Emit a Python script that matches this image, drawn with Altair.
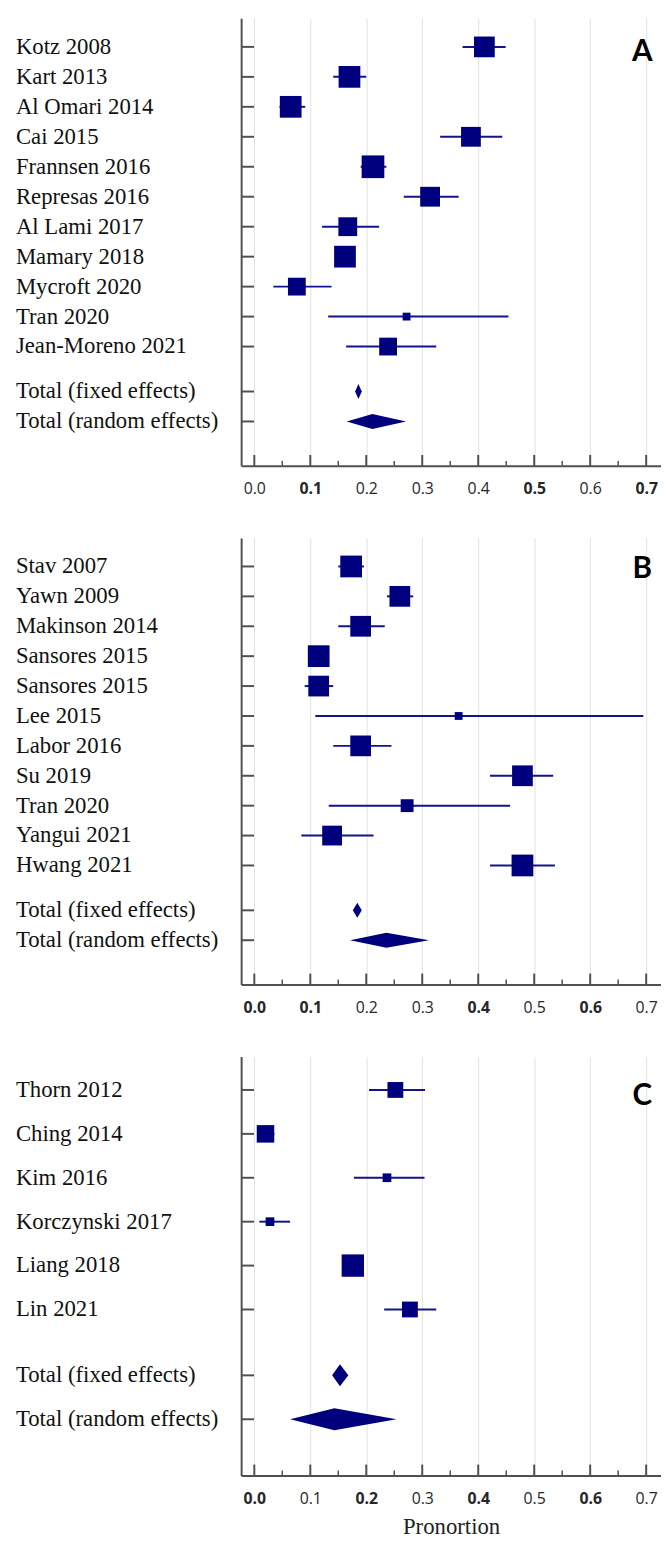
import altair as alt
import pandas as pd

# ---------------- data ----------------
# Panel A
a_studies = ["Kotz 2008", "Kart 2013", "Al Omari 2014", "Cai 2015", "Frannsen 2016",
             "Represas 2016", "Al Lami 2017", "Mamary 2018", "Mycroft 2020", "Tran 2020",
             "Jean-Moreno 2021"]
a_prop = [0.411, 0.170, 0.065, 0.387, 0.212, 0.314, 0.167, 0.162, 0.076, 0.272, 0.239]
a_lo = [0.372, 0.141, 0.045, 0.332, 0.190, 0.267, 0.121, 0.145, 0.034, 0.132, 0.164]
a_hi = [0.449, 0.200, 0.091, 0.443, 0.236, 0.365, 0.223, 0.180, 0.138, 0.454, 0.325]
a_weight = [9.1, 10.0, 10.0, 8.3, 10.9, 8.3, 7.5, 10.0, 6.7, 1.3, 6.7]
a_total_est = [0.186, 0.211]
a_total_lo = [0.180, 0.165]
a_total_hi = [0.192, 0.271]

# Panel B
b_studies = ["Stav 2007", "Yawn 2009", "Makinson 2014", "Sansores 2015", "Sansores 2015",
             "Lee 2015", "Labor 2016", "Su 2019", "Tran 2020", "Yangui 2021", "Hwang 2021"]
b_prop = [0.173, 0.260, 0.190, 0.115, 0.115, 0.365, 0.190, 0.479, 0.273, 0.139, 0.479]
b_lo = [0.150, 0.237, 0.150, 0.100, 0.090, 0.109, 0.141, 0.421, 0.133, 0.084, 0.421]
b_hi = [0.196, 0.284, 0.233, 0.130, 0.141, 0.695, 0.245, 0.534, 0.457, 0.213, 0.537]
b_weight = [10.0, 9.1, 9.1, 10.0, 9.1, 1.3, 9.1, 9.1, 3.5, 8.3, 10.0]
b_total_est = [0.184, 0.236]
b_total_lo = [0.176, 0.171]
b_total_hi = [0.192, 0.312]

# Panel C
c_studies = ["Thorn 2012", "Ching 2014", "Kim 2016", "Korczynski 2017", "Liang 2018", "Lin 2021"]
c_prop = [0.252, 0.020, 0.237, 0.028, 0.176, 0.278]
c_lo = [0.205, 0.006, 0.178, 0.009, 0.162, 0.232]
c_hi = [0.305, 0.036, 0.304, 0.064, 0.190, 0.325]
c_weight = [5.3, 6.5, 1.6, 1.6, 10.6, 5.3]
c_total_est = [0.153, 0.143]
c_total_lo = [0.139, 0.064]
c_total_hi = [0.168, 0.254]

total_names = ["Total (fixed effects)", "Total (random effects)"]
major_ticks = [0.0, 0.1, 0.2, 0.3, 0.4, 0.5, 0.6, 0.7]
minor_ticks = [0.05, 0.15, 0.25, 0.35, 0.45, 0.55, 0.65]
# tick labels that appear heavier in each panel of the source image
a_bold_labels = ["0.1", "0.5", "0.7"]
b_bold_labels = ["0.0", "0.1", "0.4", "0.6"]
c_bold_labels = ["0.0", "0.2", "0.4", "0.6"]

# ---------------- style ----------------
NAVY = "#00007f"
AXIS_GRAY = "#505050"
XMIN, XMAX = -0.0235, 0.7265
W = 425


def panel(studies, prop, lo, hi, weight, t_est, t_lo, t_hi, letter, ydom, H, title,
          bold_labels, letter_y):
    n = len(studies)
    rows = list(range(1, n + 1))
    trows = [n + 1.5, n + 2.5]

    xs = alt.Scale(domain=[XMIN, XMAX], nice=False, zero=False)
    ys = alt.Scale(domain=ydom, reverse=True, nice=False, zero=False)
    bold_test = "indexof([" + ",".join("'" + b + "'" for b in bold_labels) + "], datum.label) >= 0"
    axis_kw = dict(values=major_ticks, format=".1f", grid=True, gridColor="#e2e2e2",
                   gridWidth=1, ticks=False, tickSize=0, domainColor=AXIS_GRAY,
                   domainWidth=2, labelFont="Open Sans", labelFontSize=16,
                   labelFontWeight={"condition": {"test": bold_test, "value": "bold"},
                                    "value": "normal"},
                   labelColor="#262626", labelPadding=23, labelBaseline="middle",
                   labelFlush=False)
    if title:
        xaxis = alt.Axis(title=title, titleFont="Liberation Serif", titleFontSize=23,
                         titleFontWeight="normal", titleColor="#222222", titlePadding=10,
                         **axis_kw)
    else:
        xaxis = alt.Axis(title=None, **axis_kw)
    yaxis = alt.Axis(title=None, domain=True, domainColor=AXIS_GRAY, domainWidth=2,
                     ticks=False, labels=False, grid=False)

    st = pd.DataFrame(dict(name=studies, row=rows, p=prop, lo=lo, hi=hi, w=weight))
    lab = pd.DataFrame(dict(name=studies + total_names, row=rows + trows))
    dia_rows = []
    for g, (r, e, l, h) in enumerate(zip(trows, t_est, t_lo, t_hi)):
        dia_rows.append(dict(g=g, x=l, y1=r, y2=r))
        dia_rows.append(dict(g=g, x=e, y1=r - 0.25, y2=r + 0.25))
        dia_rows.append(dict(g=g, x=h, y1=r, y2=r))
    dia = pd.DataFrame(dia_rows)
    maj = pd.DataFrame(dict(t=major_ticks))
    mnr = pd.DataFrame(dict(t=minor_ticks))

    xt_major = alt.Chart(maj).mark_rule(color=AXIS_GRAY, strokeWidth=2).encode(
        x=alt.X("t:Q", scale=xs, axis=xaxis),
        y=alt.value(H), y2=alt.value(H - 11))
    xt_minor = alt.Chart(mnr).mark_rule(color=AXIS_GRAY, strokeWidth=1.5).encode(
        x=alt.X("t:Q", scale=xs, axis=xaxis),
        y=alt.value(H), y2=alt.value(H - 5))
    yt = alt.Chart(lab).mark_rule(color=AXIS_GRAY, strokeWidth=2).encode(
        y=alt.Y("row:Q", scale=ys, axis=yaxis),
        x=alt.value(0), x2=alt.value(13))
    ci = alt.Chart(st).mark_rule(color="#14148a", strokeWidth=2).encode(
        x=alt.X("lo:Q", scale=xs, axis=xaxis), x2="hi:Q",
        y=alt.Y("row:Q", scale=ys, axis=yaxis))
    sq = alt.Chart(st).mark_square(filled=True, color=NAVY, opacity=1).encode(
        x=alt.X("p:Q", scale=xs, axis=xaxis),
        y=alt.Y("row:Q", scale=ys, axis=yaxis),
        size=alt.Size("w:Q", scale=alt.Scale(domain=[0, 10], range=[0, 484]), legend=None))
    dm = alt.Chart(dia).mark_area(color=NAVY, opacity=1, orient="vertical").encode(
        x=alt.X("x:Q", scale=xs, axis=xaxis),
        y=alt.Y("y1:Q", scale=ys, axis=yaxis), y2="y2:Q",
        detail="g:N")
    labels = alt.Chart(lab).mark_text(align="left", baseline="middle",
                                      font="Liberation Serif", fontSize=23,
                                      color="#111111").encode(
        y=alt.Y("row:Q", scale=ys, axis=yaxis),
        x=alt.value(-228), text="name:N")
    let = alt.Chart(pd.DataFrame(dict(t=[letter]))).mark_text(
        align="center", baseline="middle", font="Lato", fontWeight="bold",
        fontSize=30, color="#000000").encode(
        x=alt.value(406), y=alt.value(letter_y), text="t:N")

    return alt.layer(xt_major, xt_minor, yt, ci, sq, dm, labels, let).properties(
        width=W, height=H)


pA = panel(a_studies, a_prop, a_lo, a_hi, a_weight, a_total_est, a_total_lo, a_total_hi,
           "A", [0.046, 14.98], 453, None, a_bold_labels, 34)
pB = panel(b_studies, b_prop, b_lo, b_hi, b_weight, b_total_est, b_total_lo, b_total_hi,
           "B", [0.046, 14.98], 452, None, b_bold_labels, 32)
pC = panel(c_studies, c_prop, c_lo, c_hi, c_weight, c_total_est, c_total_lo, c_total_hi,
           "C", [0.24, 9.78], 424, "Pronortion", c_bold_labels, 40)

chart = alt.vconcat(pA, pB, pC, spacing=42).resolve_scale(
    x="independent", y="independent", size="independent"
).properties(
    padding={"left": 8, "top": 1, "right": 0, "bottom": 0}
).configure_view(stroke=None)

chart.save("out.html", embed_options={"renderer": "svg", "actions": False})
